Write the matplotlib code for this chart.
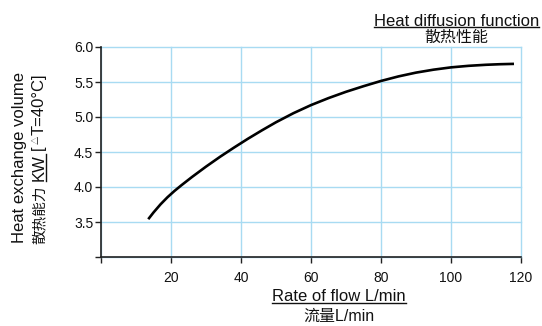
import matplotlib
matplotlib.use('Agg')
import matplotlib.pyplot as plt
from matplotlib import font_manager
from matplotlib.lines import Line2D

# ---------------- data ----------------
flow_lpm = [13.5, 15, 17, 19, 21, 23, 26, 30, 34, 38, 42, 46, 50, 55, 60, 65, 70,
            75, 80, 85, 90, 95, 100, 105, 110, 114, 118]
heat_kw = [3.54, 3.636, 3.752, 3.854, 3.944, 4.026, 4.143, 4.291, 4.431, 4.563, 4.69, 4.81,
           4.925, 5.055, 5.17, 5.27, 5.36, 5.44, 5.515, 5.58, 5.634, 5.676, 5.709, 5.731,
           5.746, 5.754, 5.759]
x_ticks = [0, 20, 40, 60, 80, 100, 120]
x_tick_labels = ['', '20', '40', '60', '80', '100', '120']
y_ticks = [3.0, 3.5, 4.0, 4.5, 5.0, 5.5, 6.0]
y_tick_labels = ['', '3.5', '4.0', '4.5', '5.0', '5.5', '6.0']

title_en = 'Heat diffusion function'
title_cn = '散热性能'
xlabel_en = 'Rate of flow L/min'
xlabel_cn = '流量L/min'
ylabel_en = 'Heat exchange volume'
ylabel_cn = '散热能力'
ylabel_unit = 'KW'
ylabel_cond_open = '['
ylabel_delta = '△'
ylabel_cond = 'T=40°C]'

# ---------------- style ----------------
FAM = ['Liberation Sans', 'Noto Sans CJK SC', 'DejaVu Sans']
plt.rcParams['font.family'] = FAM
names = {f.name for f in font_manager.fontManager.ttflist}
NARROW = ['Liberation Sans Narrow' if 'Liberation Sans Narrow' in names else 'Liberation Sans',
          'Noto Sans CJK SC', 'DejaVu Sans']
TXT = '#111111'
AXC = '#222222'
GRID = '#a8dbf2'

W, H = 542, 326
fig = plt.figure(figsize=(W / 100, H / 100), dpi=100)
ax = fig.add_axes([101 / W, 1 - 257 / H, 420 / W, 210 / H])

ax.plot(flow_lpm, heat_kw, color='black', lw=1.9, solid_capstyle='butt',
        solid_joinstyle='round', zorder=3)
ax.set_xlim(0, 120)
ax.set_ylim(3.0, 6.0)
ax.set_xticks(x_ticks)
ax.set_xticklabels(x_tick_labels)
ax.set_yticks(y_ticks)
ax.set_yticklabels(y_tick_labels)
ax.grid(True, color=GRID, lw=1.0)
for gl in ax.get_xgridlines() + ax.get_ygridlines():
    gl.set_clip_on(False)
ax.set_axisbelow(True)
for s in ['top', 'right']:
    ax.spines[s].set_visible(False)
for s in ['left', 'bottom']:
    ax.spines[s].set_color(AXC)
    ax.spines[s].set_linewidth(1.2)
ax.tick_params(length=4, width=1, color=AXC, labelsize=10, labelcolor=TXT)
ax.tick_params(axis='y', pad=1.5)
ax.tick_params(axis='x', pad=6)

renderer = fig.canvas.get_renderer()


def fx(x):
    return x / W


def fy(y):
    return 1 - y / H


def hline(x0, x1, ytop, lw=1.0):
    fig.add_artist(Line2D([fx(x0), fx(x1)], [fy(ytop), fy(ytop)],
                          transform=fig.transFigure, color=TXT, lw=lw))


def vline(x, y0, y1, lw=1.0):
    fig.add_artist(Line2D([fx(x), fx(x)], [y0 / H, y1 / H],
                          transform=fig.transFigure, color=TXT, lw=lw))


# title
t = fig.text(fx(456.5), fy(25.5), title_en, ha='center', va='baseline', fontsize=12, color=TXT)
bb = t.get_window_extent(renderer)
hline(bb.x0, bb.x1, 27.3)
fig.text(fx(456.5), fy(41.5), title_cn, ha='center', va='baseline', fontsize=11.5, color=TXT)

# x label
t = fig.text(fx(339), fy(301), xlabel_en, ha='center', va='baseline', fontsize=12, color=TXT)
bb = t.get_window_extent(renderer)
hline(bb.x0, bb.x1, 303)
fig.text(fx(339), fy(320.5), xlabel_cn, ha='center', va='baseline', fontsize=11.5, color=TXT)

# y label line 1
fig.text(fx(24.5), fy(157.5), ylabel_en, rotation=90, rotation_mode='anchor',
         ha='center', va='baseline', fontsize=12, color=TXT)

# y label line 2 built from pieces
base_x = 43.3
parts = [
    (ylabel_cn, 10.5, FAM, 0, 5),
    (ylabel_unit, 12, NARROW, 0, 4),
    (ylabel_cond_open, 12, NARROW, 0, 1),
    (ylabel_delta, 6, FAM, -5, 1),
    (ylabel_cond, 12, NARROW, 0, 0),
]
texts = []
total = 0
for s, size, fam, dx, gap in parts:
    tt = fig.text(fx(base_x + dx), 0.5, s, rotation=90, rotation_mode='anchor',
                  ha='left', va='baseline', fontsize=size, family=fam, color=TXT)
    h = tt.get_window_extent(renderer).height
    texts.append((tt, h, gap))
    total += h + gap
cur = H - (159 + total / 2)  # bottom start, in pixels from bottom
for (tt, h, gap), (s, size, fam, dx, g) in zip(texts, parts):
    tt.set_position((fx(base_x + dx), cur / H))
    if s == ylabel_unit:
        vline(base_x + 2.3, cur, cur + h)
    cur += h + gap

fig.savefig('out.png', dpi=100)
